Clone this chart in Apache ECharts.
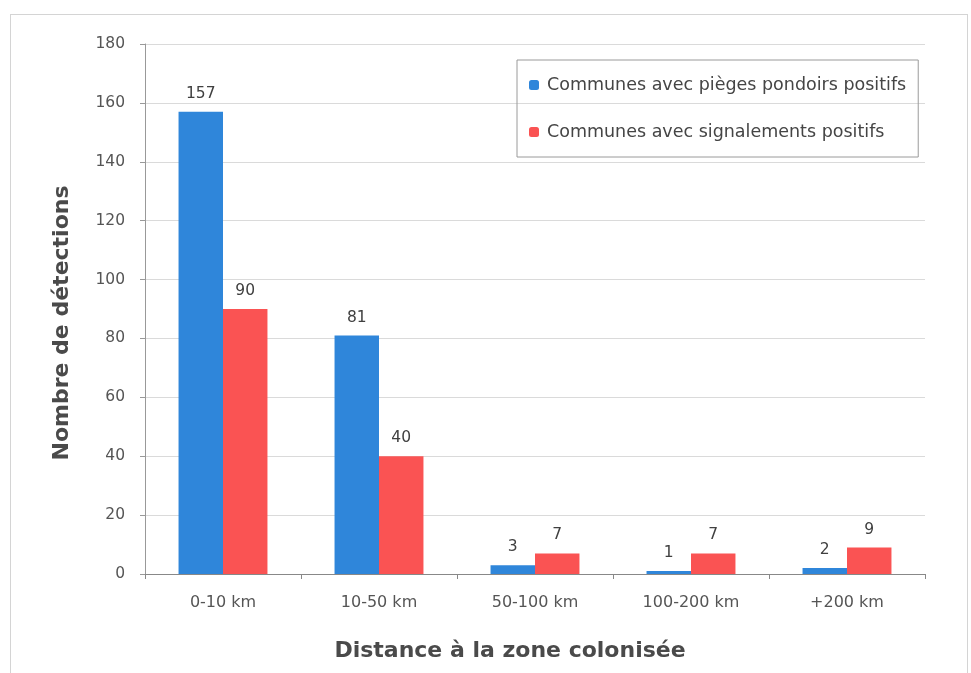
<!DOCTYPE html>
<html>
<head>
<meta charset="utf-8">
<script src="https://cdn.jsdelivr.net/npm/echarts@6/dist/echarts.min.js"></script>
<style>
  html, body { margin: 0; padding: 0; background: #fff; }
  #chart { width: 971px; height: 673px; }
  .frame { position: absolute; left: 10px; top: 14px; width: 956px; height: 670px; border: 1px solid #d4d4d4; pointer-events: none; }
</style>
</head>
<body>
<div id="chart"></div>
<div class="frame"></div>
<script>
// distance classes
const categories = ['0-10 km', '10-50 km', '50-100 km', '100-200 km', '+200 km'];
const pondoirs = [157, 81, 3, 1, 2];
const signalements = [90, 40, 7, 7, 9];
const seriesNames = ['Communes avec pièges pondoirs positifs', 'Communes avec signalements positifs'];

const font = '"DejaVu Sans", sans-serif';
const chart = echarts.init(document.getElementById('chart'));

chart.setOption({
  animation: false,
  textStyle: { fontFamily: font },
  grid: { left: 145, right: 46, top: 44, bottom: 99, outerBoundsMode: 'none' },
  legend: {
    orient: 'vertical',
    left: 517,
    top: 60,
    itemWidth: 10,
    itemHeight: 10,
    itemGap: 29,
    padding: [16, 12, 16, 12],
    borderColor: '#9a9a9a',
    borderWidth: 1,
    textStyle: { fontSize: 17.5, color: '#454545', fontFamily: font, padding: [0, 0, 0, 3] },
    data: seriesNames
  },
  xAxis: {
    type: 'category',
    data: categories,
    name: 'Distance à la zone colonisée',
    nameLocation: 'middle',
    nameGap: 66,
    nameTextStyle: { fontSize: 22, fontWeight: 'bold', color: '#4a4a4a', fontFamily: font, padding: [0, 50, 0, 0] },
    axisLine: { lineStyle: { color: '#888', width: 1 } },
    axisTick: { show: true, length: 5, lineStyle: { color: '#888' } },
    axisLabel: { fontSize: 16, color: '#555', margin: 21 }
  },
  yAxis: {
    type: 'value',
    min: 0,
    max: 180,
    interval: 20,
    name: 'Nombre de détections',
    nameLocation: 'middle',
    nameGap: 72,
    nameTextStyle: { fontSize: 22, fontWeight: 'bold', color: '#4a4a4a', fontFamily: font, padding: [0, 28, 0, 0] },
    axisLine: { show: true, lineStyle: { color: '#999' } },
    axisTick: { show: true, length: 5, lineStyle: { color: '#999' } },
    axisLabel: { fontSize: 15.5, color: '#555', margin: 20 },
    splitLine: { lineStyle: { color: '#dadada', width: 1 } }
  },
  series: [
    {
      name: seriesNames[0],
      type: 'bar',
      data: pondoirs,
      itemStyle: { color: '#2f86da' },
      barGap: '0%',
      barCategoryGap: '43%',
      label: { show: true, position: 'top', distance: 10, fontSize: 15.5, color: '#404040', fontFamily: font }
    },
    {
      name: seriesNames[1],
      type: 'bar',
      data: signalements,
      itemStyle: { color: '#fa5353' },
      label: { show: true, position: 'top', distance: 10, fontSize: 15.5, color: '#404040', fontFamily: font }
    }
  ]
});
</script>
</body>
</html>
